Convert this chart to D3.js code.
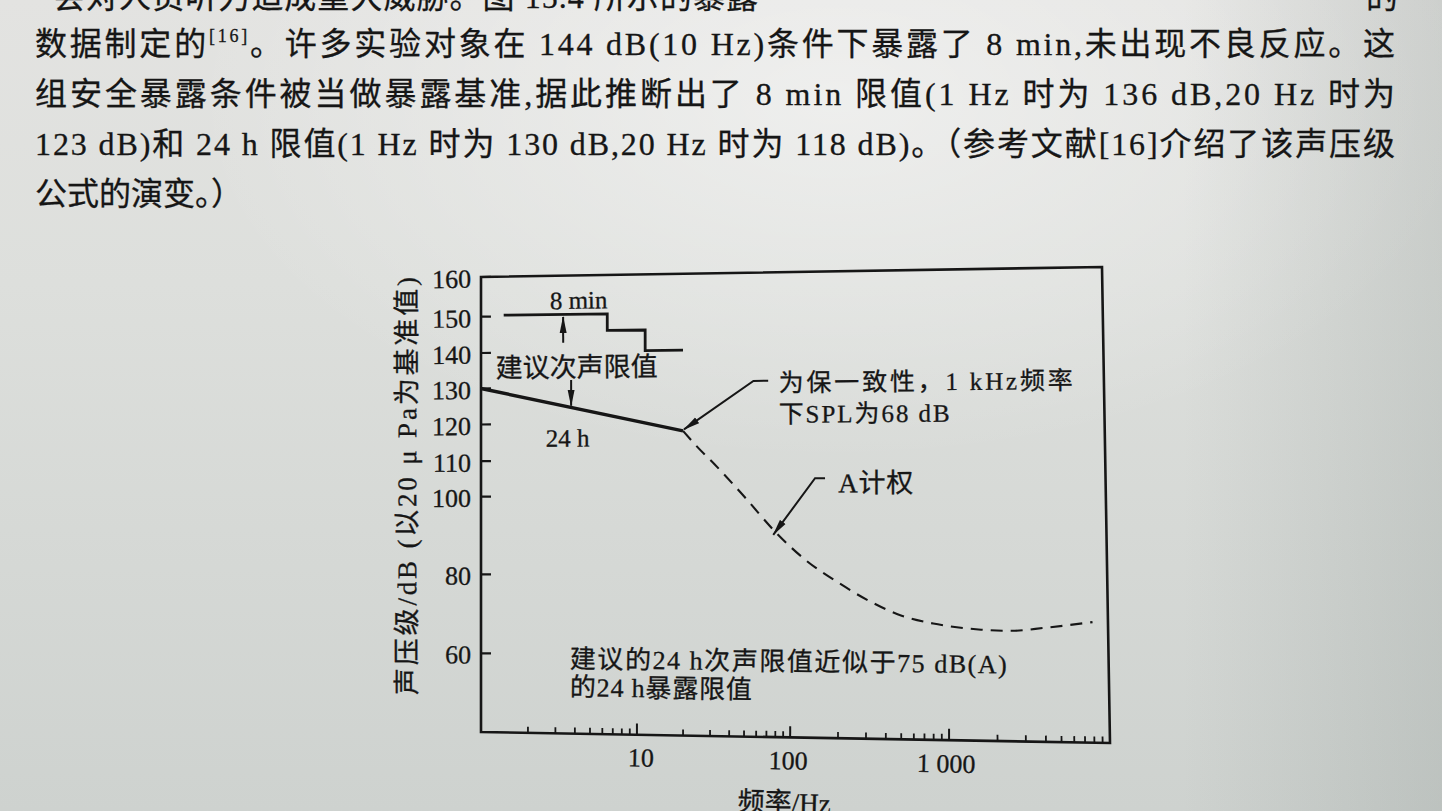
<!DOCTYPE html>
<html><head><meta charset="utf-8">
<script src="https://cdn.jsdelivr.net/npm/d3@7"></script>
<style>
html,body{margin:0;padding:0;width:1442px;height:811px;overflow:hidden;background:#dcdedb;}
svg{position:absolute;left:0;top:0;}
</style></head><body>
<svg id="page" width="1442" height="811"></svg>
<svg id="chart" width="1442" height="811"></svg>
<script>
// ---------------- data ----------------
const yTickValues = [60, 80, 100, 110, 120, 130, 140, 150, 160];
const xMajorTicks = [10, 100, 1000];
const xTickLabels = ["10", "100", "1 000"];
// 8 min limit (step line)
const limit8minFreq = [1.4, 6.5, 11.4, 20];
const limit8minSPL  = [150.3, 145.8, 140.2, 140.2];
// 24 h limit
const limit24hFreq = [1, 20];
const limit24hSPL  = [130, 118];
// A-weighted continuation (dashed)
const aWeightFreq = [20, 25, 32, 50, 80, 125, 200, 315, 500, 800, 1000, 1600, 2500, 4000, 8000];
const aWeightSPL  = [118, 113.5, 109, 100, 91, 84, 78.5, 74, 70.5, 68.6, 68, 67.2, 67, 67.8, 69.3];

const bodyLines = [
  "数据制定的",
  "组安全暴露条件被当做暴露基准,据此推断出了 8 min 限值(1 Hz 时为 136 dB,20 Hz 时为",
  "123 dB)和 24 h 限值(1 Hz 时为 130 dB,20 Hz 时为 118 dB)。（参考文献[16]介绍了该声压级",
  "公式的演变。）"
];

// ---------------- page (background + body text) ----------------
const page = d3.select("#page");
const defs = page.append("defs");
const g1 = defs.append("linearGradient").attr("id","bgv").attr("x1",0).attr("y1",0).attr("x2",0).attr("y2",1);
g1.append("stop").attr("offset","0").attr("stop-color","#e3e3e1");
g1.append("stop").attr("offset","0.35").attr("stop-color","#dddfdc");
g1.append("stop").attr("offset","1").attr("stop-color","#ced2cf");
const g2 = defs.append("radialGradient").attr("id","glow").attr("cx",0.58).attr("cy",0.12).attr("r",0.45);
g2.append("stop").attr("offset","0").attr("stop-color","#ffffff").attr("stop-opacity",0.45);
g2.append("stop").attr("offset","1").attr("stop-color","#ffffff").attr("stop-opacity",0);
const g3 = defs.append("linearGradient").attr("id","edge").attr("x1",0).attr("y1",0).attr("x2",1).attr("y2",0);
g3.append("stop").attr("offset","0.82").attr("stop-color","#7f8a86").attr("stop-opacity",0);
g3.append("stop").attr("offset","1").attr("stop-color","#7f8a86").attr("stop-opacity",0.22);
page.append("rect").attr("width",1442).attr("height",811).attr("fill","url(#bgv)");
page.append("rect").attr("width",1442).attr("height",811).attr("fill","url(#glow)");
page.append("rect").attr("width",1442).attr("height",811).attr("fill","url(#edge)");

const bodyFont = "'Liberation Serif','Noto Sans CJK SC',serif";
const ink = "#161616";
const body = page.append("g").attr("fill", ink).attr("stroke", ink).attr("stroke-width", 0.3)
  .style("font-family", bodyFont).style("font-size","32px");

// partially visible first line (cut by the photo edge, as in the reference)
body.append("text").attr("x",53).attr("y",8).attr("textLength",705).attr("lengthAdjust","spacing")
  .text("会对人员听力造成重大威胁。图 15.4 所示的暴露");
body.append("text").attr("x",1366).attr("y",8).text("的");

const l1 = body.append("text").attr("x",35).attr("y",55).attr("textLength",1360).attr("lengthAdjust","spacing");
l1.append("tspan").text(bodyLines[0]);
l1.append("tspan").attr("dy",-13).style("font-size","18px").text("[16]");
l1.append("tspan").attr("dy",13).text("。许多实验对象在 144 dB(10 Hz)条件下暴露了 8 min,未出现不良反应。这");

body.append("text").attr("x",35).attr("y",105).attr("textLength",1360).attr("lengthAdjust","spacing").text(bodyLines[1]);
body.append("text").attr("x",35).attr("y",155).attr("textLength",1360).attr("lengthAdjust","spacing").text(bodyLines[2]);
body.append("text").attr("x",35).attr("y",205).text(bodyLines[3]);

// ---------------- chart ----------------
const X0 = 481, X1 = 1105, Y0 = 277, Y1 = 732;
const x = d3.scaleLog().domain([1, 10000]).range([X0, X1]);
// printed axis is not perfectly uniform: piecewise linear through the printed ticks
const y = d3.scaleLinear()
  .domain([40, 60, 80, 100, 110, 120, 130, 140, 150, 160])
  .range([Y1, 653.3, 574.3, 496.7, 461.2, 424.5, 388.5, 353, 316.7, Y0]);

// warp of the photographed page (frame corners as seen in the photo; bottom edge slightly uneven)
const TL=[481,277], TR=[1102,267], BR=[1110,743], BL=[481,732];
const bottomCorr = d3.scaleLinear().domain([0,0.25,0.5,0.75,1]).range([0,0.2479,0.4915,0.7442,1]);
function W(ix, iy){
  const u=(ix-X0)/(X1-X0), v=(iy-Y0)/(Y1-Y0);
  const s = u + (bottomCorr(u)-u)*v;
  const tx=TL[0]+(TR[0]-TL[0])*s, ty=TL[1]+(TR[1]-TL[1])*s;
  const bx=BL[0]+(BR[0]-BL[0])*s, by=BL[1]+(BR[1]-BL[1])*s;
  return [tx+(bx-tx)*v, ty+(by-ty)*v];
}
function ang(iy){
  const v=(iy-Y0)/(Y1-Y0);
  const dx=(TR[0]-TL[0])*(1-v)+(BR[0]-BL[0])*v, dy=(TR[1]-TL[1])*(1-v)+(BR[1]-BL[1])*v;
  return Math.atan2(dy,dx)*180/Math.PI;
}
function place(sel, ix, iy, extra){
  const p=W(ix,iy);
  sel.attr("transform",`translate(${p[0]},${p[1]}) rotate(${ang(iy)+(extra||0)})`);
}
const wline = d3.line().x(d=>W(d[0],d[1])[0]).y(d=>W(d[0],d[1])[1]);
const toIdeal = (f,v)=>[x(f), y(v)];

const svg = d3.select("#chart");
const chartFont = "'Liberation Serif','Noto Sans CJK SC',serif";
const cjkFont = "'Noto Sans CJK SC','Liberation Serif',sans-serif";
const c = svg.append("g").attr("fill", ink).style("font-family", chartFont);
const T = ()=>c.append("text").attr("stroke",ink).attr("stroke-width",0.3);

const cdefs = svg.append("defs");
cdefs.append("marker").attr("id","ah").attr("viewBox","0 0 17 8").attr("refX",16).attr("refY",4)
  .attr("markerWidth",17).attr("markerHeight",8).attr("markerUnits","userSpaceOnUse").attr("orient","auto")
  .append("path").attr("d","M0,0.5 L17,4 L0,7.5 Z").attr("fill", ink);

// frame
c.append("path").attr("d", wline([[X0,Y0],[X1,Y0],[X1,Y1],[X0,Y1]]) + "Z")
  .attr("fill","none").attr("stroke",ink).attr("stroke-width",2.6).attr("stroke-linejoin","miter");

// y ticks (inward) + labels
c.selectAll(".yt").data(yTickValues).join("path")
  .attr("d",d=>wline([[X0,y(d)],[X0+10,y(d)]])).attr("stroke",ink).attr("stroke-width",2.2);
yTickValues.forEach(d=>{
  T().call(place, X0-10, y(d)+2).attr("text-anchor","end").attr("dominant-baseline","central")
    .style("font-size","26px").text(d);
});

// x ticks (inward)
const minor = [];
[1,10,100,1000].forEach(dec=>{ for(let k=2;k<=9;k++) minor.push(dec*k); });
c.selectAll(".xm").data(minor).join("path")
  .attr("d",d=>wline([[x(d),Y1],[x(d),Y1-6]])).attr("stroke",ink).attr("stroke-width",1.8);
c.selectAll(".xM").data(xMajorTicks).join("path")
  .attr("d",d=>wline([[x(d),Y1],[x(d),Y1-11]])).attr("stroke",ink).attr("stroke-width",2);
const labelShift = [4, -2, -3];
xMajorTicks.forEach((d,i)=>{
  T().call(place, x(d)+labelShift[i], Y1+23).attr("text-anchor","middle").attr("dominant-baseline","central")
    .style("font-size","26px").text(xTickLabels[i]);
});

// axis titles
T().call(place, 407, 486, -90).attr("text-anchor","middle")
  .attr("dominant-baseline","central").attr("textLength",418).attr("lengthAdjust","spacing")
  .style("font-size","27px").text("声压级/dB (以20 μ Pa为基准值)");
T().call(place, 787, 796).attr("text-anchor","middle").attr("dominant-baseline","central")
  .style("font-size","27px").text("频率/Hz");

// curves
const step = [];
limit8minFreq.forEach((f,i)=>{
  step.push(toIdeal(f, limit8minSPL[i]));
  if(i<limit8minFreq.length-1) step.push(toIdeal(limit8minFreq[i+1], limit8minSPL[i]));
});
c.append("path").attr("d", wline(step)).attr("fill","none").attr("stroke",ink).attr("stroke-width",2.8);
const d24 = limit24hFreq.map((f,i)=>toIdeal(f, limit24hSPL[i]));
c.append("path").attr("d", wline(d24)).attr("fill","none").attr("stroke",ink).attr("stroke-width",3.4);
const dA = aWeightFreq.map((f,i)=>toIdeal(f, aWeightSPL[i]));
c.append("path").attr("d", wline.curve(d3.curveMonotoneX)(dA))
  .attr("fill","none").attr("stroke",ink).attr("stroke-width",2.1).attr("stroke-dasharray","12,8");
wline.curve(d3.curveLinear);

// annotations (anchored in data space)
function arrow(pts){
  c.append("path").attr("d", wline(pts.map(p=>toIdeal(p[0],p[1]))))
    .attr("fill","none").attr("stroke",ink).attr("stroke-width",2).attr("marker-end","url(#ah)");
}
function label(f, v, txt, size, opts){
  const t = T().call(place, x(f), y(v)).attr("dominant-baseline","central").style("font-size",size+"px").text(txt);
  if(opts && opts.anchor) t.attr("text-anchor", opts.anchor);
  if(opts && opts.len) t.attr("textLength", opts.len).attr("lengthAdjust","spacing");
  if(opts && opts.font) t.style("font-family", opts.font);
  return t;
}
label(4.25, 153.8, "8 min", 25, {anchor:"middle"});
arrow([[3.38,142.6],[3.38,149.6]]);
label(4.12, 136.3, "建议次声限值", 27, {anchor:"middle", len:162, font:cjkFont});
const f24 = 3.8, v24 = limit24hSPL[0] + (limit24hSPL[1]-limit24hSPL[0])*Math.log(f24/limit24hFreq[0])/Math.log(limit24hFreq[1]/limit24hFreq[0]);
arrow([[f24,132.2],[f24,v24+0.4]]);
label(3.6, 116.2, "24 h", 25, {anchor:"middle"});

// callout 1
arrow([[71,131.5],[57,131.5],[20.3,118.4]]);
label(83, 130.9, "为保一致性，1 kHz频率", 25, {len:294});
label(83, 122.4, "下SPL为68 dB", 25, {len:171});

// callout 2
arrow([[165,105.1],[142.5,105.1],[77,90.4]]);
label(200, 103.7, "A计权", 27, {len:75});

// bottom note
label(3.72, 58.7, "建议的24 h次声限值近似于75 dB(A)", 26, {len:437});
label(3.72, 51.6, "的24 h暴露限值", 26, {len:182});
</script>
</body></html>
